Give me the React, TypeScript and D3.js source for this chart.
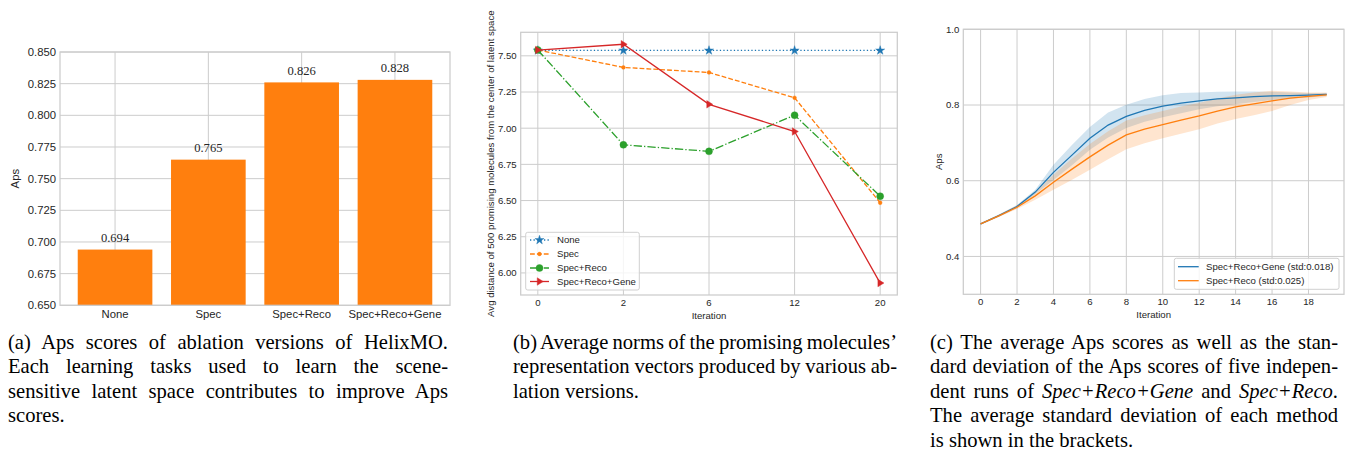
import React, { useLayoutEffect, useRef } from "react";
import * as d3 from "d3";

// ---------- Data ----------
const barCategories = ["None", "Spec", "Spec+Reco", "Spec+Reco+Gene"];
const barValues = [0.694, 0.765, 0.826, 0.828];
const barTicks = [0.65, 0.675, 0.7, 0.725, 0.75, 0.775, 0.8, 0.825, 0.85];

const iterLabels = ["0", "2", "6", "12", "20"];
const normNone = [7.537, 7.537, 7.537, 7.537, 7.537];
const normSpec = [7.54, 7.42, 7.385, 7.21, 6.485];
const normSpecReco = [7.54, 6.885, 6.84, 7.09, 6.53];
const normSpecRecoGene = [7.54, 7.58, 7.165, 6.977, 5.93];
const normTicks = [6.0, 6.25, 6.5, 6.75, 7.0, 7.25, 7.5];

const iterations = d3.range(0, 20);
const srgMean = [0.486, 0.508, 0.532, 0.570, 0.622, 0.667, 0.712, 0.747, 0.770, 0.786, 0.797, 0.805, 0.811, 0.816, 0.819, 0.822, 0.824, 0.825, 0.826, 0.828];
const srgStd = [0.002, 0.003, 0.004, 0.006, 0.02, 0.027, 0.03, 0.033, 0.031, 0.03, 0.029, 0.027, 0.022, 0.019, 0.017, 0.014, 0.011, 0.008, 0.006, 0.004];
const srMean = [0.486, 0.507, 0.530, 0.560, 0.596, 0.630, 0.663, 0.694, 0.721, 0.736, 0.748, 0.760, 0.771, 0.784, 0.795, 0.803, 0.811, 0.818, 0.823, 0.827];
const srStd = [0.002, 0.003, 0.005, 0.01, 0.02, 0.028, 0.034, 0.037, 0.038, 0.037, 0.036, 0.036, 0.035, 0.033, 0.032, 0.03, 0.027, 0.018, 0.01, 0.006];
const apsTicks = [0.4, 0.6, 0.8, 1.0];
const iterTicks = [0, 2, 4, 6, 8, 10, 12, 14, 16, 18];

const captionA = [
  "(a) Aps scores of ablation versions of HelixMO.",
  "Each learning tasks used to learn the scene-",
  "sensitive latent space contributes to improve Aps",
  "scores.",
];
const captionB = [
  "(b) Average norms of the promising molecules’",
  "representation vectors produced by various ab-",
  "lation versions.",
];
const captionC = [
  "(c) The average Aps scores as well as the stan-",
  "dard deviation of the Aps scores of five indepen-",
  "", // line with italics, built below
  "The average standard deviation of each method",
  "is shown in the brackets.",
];

// ---------- Styles ----------
const SANS = "'Liberation Sans', Arial, Helvetica, sans-serif";
const SERIF = "'Liberation Serif', 'Times New Roman', Times, serif";
const GRID = "#cccccc";
const TXT = "#262626";
const BLUE = "#1f77b4";
const ORANGE = "#ff7f0e";
const GREEN = "#2ca02c";
const RED = "#d62728";
const FS = 9.6; // tick font for (b),(c)
const FA = 11.3; // tick font for (a)

function Caption({ lines, x0, x1, justify }: { lines: React.ReactNode[]; x0: number; x1: number; justify: boolean[] }) {
  const base = 348.5;
  const lh = 24.5;
  const refs = useRef<(SVGTextElement | null)[]>([]);
  useLayoutEffect(() => {
    refs.current.forEach((el, i) => {
      if (!el || !justify[i]) return;
      el.setAttribute("word-spacing", "0");
      const w = el.getComputedTextLength();
      const n = (el.textContent || "").split(" ").length - 1;
      if (n > 0) el.setAttribute("word-spacing", String((x1 - x0 - w) / n));
    });
  });
  return (
    <g fontFamily={SERIF} fontSize={20.6} fill="#000">
      {lines.map((l, i) => (
        <text key={i} ref={(el) => { refs.current[i] = el; }} x={x0} y={base + i * lh}>
          {l}
        </text>
      ))}
    </g>
  );
}

function ChartA() {
  const L = 60, R = 450, T = 52, B = 305.3;
  const x = d3.scaleLinear().domain([-0.59, 3.59]).range([L, R]);
  const y = d3.scaleLinear().domain([0.65, 0.85]).range([B, T]);
  return (
    <g fontFamily={SANS}>
      {barTicks.map((t) => (
        <line key={t} x1={L} x2={R} y1={y(t)} y2={y(t)} stroke={GRID} strokeWidth={1} />
      ))}
      {barCategories.map((c, i) => (
        <line key={c} x1={x(i)} x2={x(i)} y1={T} y2={B} stroke={GRID} strokeWidth={1} />
      ))}
      {barValues.map((v, i) => (
        <rect key={i} x={x(i - 0.4)} width={x(0.4) - x(-0.4)} y={y(v)} height={B - y(v)} fill={ORANGE} />
      ))}
      <rect x={L} y={T} width={R - L} height={B - T} fill="none" stroke={GRID} strokeWidth={1.25} />
      {barValues.map((v, i) => (
        <text key={i} x={x(i)} y={y(v) - 7.5} textAnchor="middle" fontFamily={SERIF} fontSize={12.6} fill={TXT}>
          {v.toFixed(3)}
        </text>
      ))}
      {barTicks.map((t) => (
        <text key={t} x={L - 4} y={y(t)} dy="0.35em" textAnchor="end" fontSize={FA} fill={TXT}>
          {t.toFixed(3)}
        </text>
      ))}
      {barCategories.map((c, i) => (
        <text key={c} x={x(i)} y={B + 12.5} textAnchor="middle" fontSize={FA} fill={TXT}>
          {c}
        </text>
      ))}
      <text transform={`translate(19,${(T + B) / 2}) rotate(-90)`} textAnchor="middle" fontSize={FA} fill={TXT}>
        Aps
      </text>
    </g>
  );
}

function star(cx: number, cy: number, size: number) {
  const p = d3.symbol().type(d3.symbolStar).size(size)();
  return <path d={p || ""} transform={`translate(${cx},${cy})`} />;
}
function triRight(cx: number, cy: number, r: number) {
  return <path d={`M${cx + r},${cy} L${cx - r * 0.6},${cy - r} L${cx - r * 0.6},${cy + r} Z`} />;
}

type SeriesB = { name: string; vals: number[]; color: string; dash: string; marker: "star" | "small" | "big" | "tri" };
const seriesB: SeriesB[] = [
  { name: "None", vals: normNone, color: BLUE, dash: "1.3,2.2", marker: "star" },
  { name: "Spec", vals: normSpec, color: ORANGE, dash: "4.8,2.1", marker: "small" },
  { name: "Spec+Reco", vals: normSpecReco, color: GREEN, dash: "8.3,2.1,1.3,2.1", marker: "big" },
  { name: "Spec+Reco+Gene", vals: normSpecRecoGene, color: RED, dash: "", marker: "tri" },
];

function drawMarker(m: SeriesB["marker"], cx: number, cy: number, color: string, key: any) {
  return (
    <g key={key} fill={color} stroke={color} strokeWidth={0.4}>
      {m === "star" && star(cx, cy, 26)}
      {m === "small" && <circle cx={cx} cy={cy} r={1.9} />}
      {m === "big" && <circle cx={cx} cy={cy} r={3.5} />}
      {m === "tri" && triRight(cx, cy, 3.8)}
    </g>
  );
}

function ChartB() {
  const L = 520.7, R = 897.3, T = 32.3, B = 295;
  const x = d3.scaleLinear().domain([-0.2, 4.2]).range([L, R]);
  const y = d3.scaleLinear().domain([5.8475, 7.6625]).range([B, T]);
  const line = d3
    .line<number>()
    .x((_, i) => x(i))
    .y((d) => y(d));
  const legY = [240, 254, 268, 281.5];
  return (
    <g fontFamily={SANS}>
      {normTicks.map((t) => (
        <line key={t} x1={L} x2={R} y1={y(t)} y2={y(t)} stroke={GRID} strokeWidth={1} />
      ))}
      {iterLabels.map((c, i) => (
        <line key={c} x1={x(i)} x2={x(i)} y1={T} y2={B} stroke={GRID} strokeWidth={1} />
      ))}
      <rect x={L} y={T} width={R - L} height={B - T} fill="none" stroke={GRID} strokeWidth={1.25} />
      {seriesB.map((s) => (
        <g key={s.name}>
          <path d={line(s.vals) || ""} fill="none" stroke={s.color} strokeWidth={1.3} strokeDasharray={s.dash || undefined} />
          {s.vals.map((v, i) => drawMarker(s.marker, x(i), y(v), s.color, i))}
        </g>
      ))}
      {normTicks.map((t) => (
        <text key={t} x={L - 4} y={y(t)} dy="0.35em" textAnchor="end" fontSize={FS} fill={TXT}>
          {t.toFixed(2)}
        </text>
      ))}
      {iterLabels.map((c, i) => (
        <text key={c} x={x(i)} y={B + 10.5} textAnchor="middle" fontSize={FS} fill={TXT}>
          {c}
        </text>
      ))}
      <text x={(L + R) / 2} y={B + 23.5} textAnchor="middle" fontSize={FS} fill={TXT}>
        Iteration
      </text>
      <text transform={`translate(493.5,${(T + B) / 2}) rotate(-90)`} textAnchor="middle" fontSize={FS} fill={TXT}>
        Avg distance of 500 promising molecules from the center of latent space
      </text>
      <rect x={525.7} y={232.3} width={113.6} height={57.7} rx={2} fill="#fff" fillOpacity={0.8} stroke="#d0d0d0" strokeWidth={1} />
      {seriesB.map((s, i) => (
        <g key={s.name}>
          <line x1={530} x2={549} y1={legY[i]} y2={legY[i]} stroke={s.color} strokeWidth={1.3} strokeDasharray={s.dash || undefined} />
          {drawMarker(s.marker, 539.5, legY[i], s.color, "m")}
          <text x={557} y={legY[i]} dy="0.35em" fontSize={FS} fill={TXT}>
            {s.name}
          </text>
        </g>
      ))}
    </g>
  );
}

function ChartC() {
  const L = 963.3, R = 1344, T = 29.3, B = 294.3;
  const x = d3.scaleLinear().domain([-0.95, 19.95]).range([L, R]);
  const y = d3.scaleLinear().domain([0.3, 1.0]).range([B, T]);
  const line = d3
    .line<number>()
    .x((_, i) => x(iterations[i]))
    .y((d) => y(d));
  const band = (m: number[], s: number[]) =>
    d3
      .area<number>()
      .x((_, i) => x(iterations[i]))
      .y0((_, i) => y(m[i] - s[i]))
      .y1((_, i) => y(m[i] + s[i]))(m) || "";
  return (
    <g fontFamily={SANS}>
      {apsTicks.map((t) => (
        <line key={t} x1={L} x2={R} y1={y(t)} y2={y(t)} stroke={GRID} strokeWidth={1} />
      ))}
      {iterTicks.map((t) => (
        <line key={t} x1={x(t)} x2={x(t)} y1={T} y2={B} stroke={GRID} strokeWidth={1} />
      ))}
      <rect x={L} y={T} width={R - L} height={B - T} fill="none" stroke={GRID} strokeWidth={1.25} />
      <path d={band(srgMean, srgStd)} fill={BLUE} fillOpacity={0.2} />
      <path d={band(srMean, srStd)} fill={ORANGE} fillOpacity={0.2} />
      <path d={line(srgMean) || ""} fill="none" stroke={BLUE} strokeWidth={1.3} />
      <path d={line(srMean) || ""} fill="none" stroke={ORANGE} strokeWidth={1.3} />
      {apsTicks.map((t) => (
        <text key={t} x={L - 4} y={y(t)} dy="0.35em" textAnchor="end" fontSize={FS} fill={TXT}>
          {t.toFixed(1)}
        </text>
      ))}
      {iterTicks.map((t) => (
        <text key={t} x={x(t)} y={B + 10.5} textAnchor="middle" fontSize={FS} fill={TXT}>
          {t}
        </text>
      ))}
      <text x={(L + R) / 2} y={B + 23.5} textAnchor="middle" fontSize={FS} fill={TXT}>
        Iteration
      </text>
      <text transform={`translate(941.5,${(T + B) / 2}) rotate(-90)`} textAnchor="middle" fontSize={FS} fill={TXT}>
        Aps
      </text>
      <rect x={1174.3} y={258.3} width={164.7} height={31} rx={2} fill="#fff" fillOpacity={0.8} stroke="#d0d0d0" strokeWidth={1} />
      <line x1={1178} x2={1198.7} y1={266.7} y2={266.7} stroke={BLUE} strokeWidth={1.3} />
      <line x1={1178} x2={1198.7} y1={280.7} y2={280.7} stroke={ORANGE} strokeWidth={1.3} />
      <text x={1206} y={266.7} dy="0.35em" fontSize={FS} fill={TXT}>
        Spec+Reco+Gene (std:0.018)
      </text>
      <text x={1206} y={280.7} dy="0.35em" fontSize={FS} fill={TXT}>
        Spec+Reco (std:0.025)
      </text>
    </g>
  );
}

export default function App() {
  const capC: React.ReactNode[] = captionC.map((l, i) =>
    i === 2 ? (
      <>
        <tspan>dent runs of </tspan>
        <tspan fontStyle="italic">Spec+Reco+Gene</tspan>
        <tspan> and </tspan>
        <tspan fontStyle="italic">Spec+Reco</tspan>
        <tspan>.</tspan>
      </>
    ) : (
      l
    )
  );
  return (
    <div style={{ position: "absolute", left: 0, top: 0 }}>
      <svg width={1346} height={450} style={{ display: "block", background: "#fff" }}>
        <ChartA />
        <ChartB />
        <ChartC />
        <Caption lines={captionA} x0={8} x1={448} justify={[true, true, true, false]} />
        <Caption lines={captionB} x0={513} x1={897} justify={[true, true, false]} />
        <Caption lines={capC} x0={930} x1={1338} justify={[true, true, true, true, false]} />
      </svg>
    </div>
  );
}
